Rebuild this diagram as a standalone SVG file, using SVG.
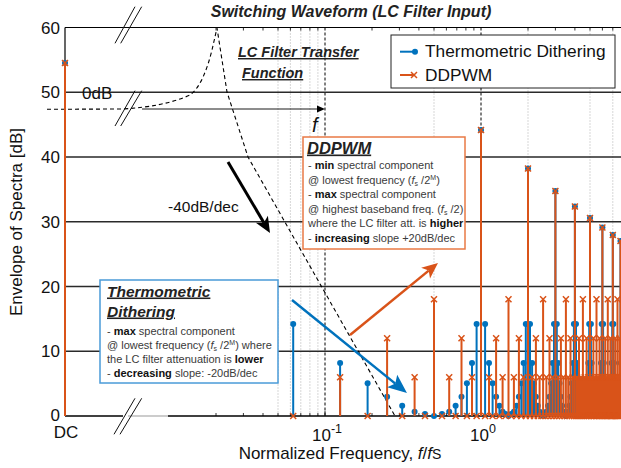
<svg xmlns="http://www.w3.org/2000/svg" width="621" height="468" viewBox="0 0 621 468">
<style>
text{font-family:"Liberation Sans",Arial,sans-serif;}
.lab{font-size:17px;fill:#111;}
.bi{font-weight:bold;font-style:italic;fill:#222;}
.body{font-size:11px;fill:#3a3a3a;}
.b{font-weight:bold;fill:#111;}
.grid{stroke:#2a2a2a;stroke-width:1.3;fill:none;}
.dot{stroke:#9a9a9a;stroke-width:0.8;stroke-dasharray:1 2;fill:none;}
.dash{stroke:#000;stroke-width:1;stroke-dasharray:3 2;fill:none;}
.sB{stroke:#0072BD;stroke-width:2;fill:none;}
.sO{stroke:#D95319;stroke-width:2;fill:none;}
.mkB{stroke:none;fill:none;marker-start:url(#mB);marker-mid:url(#mB);marker-end:url(#mB);}
.mkO{stroke:none;fill:none;marker-start:url(#mO);marker-mid:url(#mO);marker-end:url(#mO);}
.brk{stroke:#111;stroke-width:1;fill:none;}
</style>
<defs>
<marker id="mB" markerUnits="userSpaceOnUse" viewBox="-4 -4 8 8" markerWidth="8" markerHeight="8" refX="0" refY="0" overflow="visible"><circle r="3" fill="#0072BD"/></marker>
<marker id="mO" markerUnits="userSpaceOnUse" viewBox="-4 -4 8 8" markerWidth="8" markerHeight="8" refX="0" refY="0" overflow="visible"><path d="M-3,-3L3,3M-3,3L3,-3" stroke="#D95319" stroke-width="1.5" fill="none"/></marker>
<marker id="ahK" markerUnits="userSpaceOnUse" viewBox="-6 -9 20 18" markerWidth="20" markerHeight="18" refX="0" refY="0" orient="auto" overflow="visible"><path d="M12,0L-4,-7L0,0L-4,7Z" fill="#000"/></marker>
<marker id="ahO" markerUnits="userSpaceOnUse" viewBox="-6 -9 20 18" markerWidth="20" markerHeight="18" refX="0" refY="0" orient="auto" overflow="visible"><path d="M12,0L-4,-7L0,0L-4,7Z" fill="#D95319"/></marker>
<marker id="ahB" markerUnits="userSpaceOnUse" viewBox="-6 -10 24 20" markerWidth="24" markerHeight="20" refX="0" refY="0" orient="auto" overflow="visible"><path d="M15,0L-4,-8L0,0L-4,8Z" fill="#0072BD"/></marker>
</defs>
<rect width="621" height="468" fill="#fff"/>

<g id="title"><text class="bi" x="351" y="17" font-size="16" text-anchor="middle">Switching Waveform (LC Filter Input)</text></g>

<g id="grid">
<path class="dot" d="M278 27.5V416M290.4 27.5V416M300.8 27.5V416M309.9 27.5V416M317.9 27.5V416M434 27.5V416M528 27.5V416M590 27.5V416M612.8 27.5V416"/>
<path class="dash" d="M325 27.5V416M481 27.5V416"/>
<path class="grid" d="M65 92.25H621M65 157H621M65 221.75H621M65 286.5H621M65 351.25H621"/>
</g>

<g id="axes">
<path d="M65 27.5H621" stroke="#000" stroke-width="1.2"/>
<path d="M65 27.5V416" stroke="#000" stroke-width="1.2"/>
<path d="M65 416H123" stroke="#000" stroke-width="1.4"/>
<path d="M128 416H168" stroke="#999" stroke-width="1"/>
<path d="M168 416H621" stroke="#000" stroke-width="1.4"/>
<path d="M216 416v-3M243.4 416v-3M263 416v-3M278 416v-3M290.4 416v-3M300.8 416v-3M309.9 416v-3M317.9 416v-3M325 416v-5M372 416v-3M399.4 416v-3M418.9 416v-3M434 416v-3M446.4 416v-3M456.8 416v-3M465.9 416v-3M473.9 416v-3M481 416v-5M528 416v-3M555.4 416v-3M574.9 416v-3M590 416v-3M602.4 416v-3M612.8 416v-3" stroke="#000" stroke-width="0.8"/>
<path d="M216 27.5v3M243.4 27.5v3M263 27.5v3M278 27.5v3M290.4 27.5v3M300.8 27.5v3M309.9 27.5v3M317.9 27.5v3M372 27.5v3M399.4 27.5v3M418.9 27.5v3M434 27.5v3M446.4 27.5v3M456.8 27.5v3M465.9 27.5v3M473.9 27.5v3M528 27.5v3M555.4 27.5v3M574.9 27.5v3M590 27.5v3M602.4 27.5v3M612.8 27.5v3" stroke="#000" stroke-width="0.8"/>
<text class="lab" x="60" y="33.5" text-anchor="end">60</text>
<text class="lab" x="60" y="98.3" text-anchor="end">50</text>
<text class="lab" x="60" y="163" text-anchor="end">40</text>
<text class="lab" x="60" y="227.8" text-anchor="end">30</text>
<text class="lab" x="60" y="292.5" text-anchor="end">20</text>
<text class="lab" x="60" y="357.3" text-anchor="end">10</text>
<text class="lab" x="60" y="420.5" text-anchor="end" font-size="16">0</text>
<text class="lab" x="66" y="438" text-anchor="middle" font-size="16">DC</text>
<text class="lab" x="312" y="441" font-size="16">10<tspan font-size="12.5" dy="-8">-1</tspan></text>
<text class="lab" x="470" y="441" font-size="16">10<tspan font-size="12.5" dy="-8">0</tspan></text>
<text class="lab" x="340" y="459" text-anchor="middle" font-size="16.5">Normalized Frequency, <tspan font-style="italic">f</tspan>/<tspan font-style="italic">f</tspan><tspan font-size="14">S</tspan></text>
<text class="lab" x="0" y="0" text-anchor="middle" transform="translate(22 222) rotate(-90)">Envelope of Spectra [dB]</text>
</g>

<g id="breaks">
<path class="brk" d="M115 43.3L135 6.7M120.7 43.3L141.7 6.7"/>
<path class="brk" d="M115 126L135 90.7M120.7 126L141.7 90.7"/>
<path class="brk" d="M114 434.3L135 398.3M120 434.3L141.7 398.3"/>
</g>

<g id="lc-filter">
<path d="M47 109.3L120 109C150 108 175 102 190 95C200 88 207 70 212 50L217 28L227 92L248 157L395 416" stroke="#000" stroke-width="1.1" stroke-dasharray="4 3" fill="none"/>
<path d="M142 109H319" stroke="#000" stroke-width="0.9"/>
<path d="M325 109L317 105.5L317 112.5Z" fill="#000"/>
<text class="lab" x="82" y="99">0dB</text>
<text x="312" y="132" font-size="20" font-style="italic" fill="#111">f</text>
<text class="bi" x="238" y="57" font-size="14.5" text-decoration="underline">LC Filter Transfer</text>
<text class="bi" x="242" y="78" font-size="14.5" text-decoration="underline">Function</text>
<text x="168" y="212" font-size="15.5" fill="#111">-40dB/dec</text>
</g>

<g id="series-thermometric">
<path class="sB" d="M65 416V63M293.2 416V324M340.1 416V363M367.6 416V383.3M387.1 416V396.7M402.2 416V405.7M414.6 416V411.7M425 416V414M442 416V414M449.2 416V411.7M455.6 416V405.7M461.5 416V396.7M466.9 416V383.3M472 416V363M476.6 416V324M481 416V130M485.1 416V324M489 416V363M492.6 416V383.3M496.1 416V396.7M499.4 416V405.7M502.6 416V411.7M505.6 416V414M511.2 416V414M513.9 416V411.7M516.5 416V405.7M518.9 416V396.7M521.3 416V383.3M523.6 416V363M525.8 416V324M528 416V168.5M530 416V324M532.1 416V363M534 416V383.3M535.9 416V396.7M537.8 416V405.7M539.6 416V411.7M541.4 416V414M544.8 416V414M546.4 416V411.7M548 416V405.7M549.5 416V396.7M551.1 416V383.3M552.5 416V363M554 416V324M555.4 416V191M556.8 416V324M558.2 416V363M559.5 416V383.3M560.9 416V396.7M562.1 416V405.7M563.4 416V411.7M564.7 416V414M567.1 416V414M568.2 416V411.7M569.4 416V405.7M570.5 416V396.7M571.7 416V383.3M572.8 416V363M573.9 416V324M574.9 416V206.5M576 416V324M577 416V363M578 416V383.3M579 416V396.7M580 416V405.7M581 416V411.7M582 416V414M583.8 416V414M584.8 416V411.7M585.7 416V405.7M586.6 416V396.7M587.5 416V383.3M588.3 416V363M589.2 416V324M590 416V218M590.9 416V324M591.7 416V363M592.5 416V383.3M593.4 416V396.7M594.2 416V405.7M594.9 416V411.7M595.7 416V414M597.3 416V414M598 416V411.7M598.8 416V405.7M599.5 416V396.7M600.2 416V383.3M601 416V363M601.7 416V324M602.4 416V227.5M603.1 416V324M603.8 416V363M604.5 416V383.3M605.2 416V396.7M605.8 416V405.7M606.5 416V411.7M607.2 416V414M608.5 416V414M609.1 416V411.7M609.7 416V405.7M610.4 416V396.7M611 416V383.3M611.6 416V363M612.2 416V324M612.8 416V235M613.4 416V324M614 416V363M614.6 416V383.3M615.2 416V396.7M615.8 416V405.7M616.4 416V411.7M617 416V414M618.1 416V414M618.6 416V411.7M619.2 416V405.7M619.7 416V396.7M620.3 416V383.3M620.8 416V363M620.5 416V241"/>
<path class="mkB" d="M65 63L293.2 324L340.1 363L367.6 383.3L387.1 396.7L402.2 405.7L414.6 411.7L425 414L434 416L442 414L449.2 411.7L455.6 405.7L461.5 396.7L466.9 383.3L472 363L476.6 324L481 130L485.1 324L489 363L492.6 383.3L496.1 396.7L499.4 405.7L502.6 411.7L505.6 414L508.5 416L511.2 414L513.9 411.7L516.5 405.7L518.9 396.7L521.3 383.3L523.6 363L525.8 324L528 168.5L530 324L532.1 363L534 383.3L535.9 396.7L537.8 405.7L539.6 411.7L541.4 414L543.1 416L544.8 414L546.4 411.7L548 405.7L549.5 396.7L551.1 383.3L552.5 363L554 324L555.4 191L556.8 324L558.2 363L559.5 383.3L560.9 396.7L562.1 405.7L563.4 411.7L564.7 414L565.9 416L567.1 414L568.2 411.7L569.4 405.7L570.5 396.7L571.7 383.3L572.8 363L573.9 324L574.9 206.5L576 324L577 363L578 383.3L579 396.7L580 405.7L581 411.7L582 414L582.9 416L583.8 414L584.8 411.7L585.7 405.7L586.6 396.7L587.5 383.3L588.3 363L589.2 324L590 218L590.9 324L591.7 363L592.5 383.3L593.4 396.7L594.2 405.7L594.9 411.7L595.7 414L596.5 416L597.3 414L598 411.7L598.8 405.7L599.5 396.7L600.2 383.3L601 363L601.7 324L602.4 227.5L603.1 324L603.8 363L604.5 383.3L605.2 396.7L605.8 405.7L606.5 411.7L607.2 414L607.8 416L608.5 414L609.1 411.7L609.7 405.7L610.4 396.7L611 383.3L611.6 363L612.2 324L612.8 235L613.4 324L614 363L614.6 383.3L615.2 396.7L615.8 405.7L616.4 411.7L617 414L617.5 416L618.1 414L618.6 411.7L619.2 405.7L619.7 396.7L620.3 383.3L620.8 363L620.5 241"/>
</g>

<g id="series-ddpwm">
<path class="sO" d="M65 416V63M340.1 416V377.3M387.1 416V338.3M414.6 416V377.3M434 416V299.3M449.2 416V377.3M461.5 416V338.3M472 416V377.3M481 416V130M489 416V377.3M496.1 416V338.3M502.6 416V377.3M508.5 416V299.3M513.9 416V377.3M518.9 416V338.3M523.6 416V377.3M528 416V168.5M532.1 416V377.3M535.9 416V338.3M539.6 416V377.3M543.1 416V299.3M546.4 416V377.3M549.5 416V338.3M552.5 416V377.3M555.4 416V191M558.2 416V377.3M560.9 416V338.3M563.4 416V377.3M565.9 416V299.3M568.2 416V377.3M570.5 416V338.3M572.8 416V377.3M574.9 416V206.5M577 416V377.3M579 416V338.3M581 416V377.3M582.9 416V299.3M584.8 416V377.3M586.6 416V338.3M588.3 416V377.3M590 416V218M591.7 416V377.3M593.4 416V338.3M594.9 416V377.3M596.5 416V299.3M598 416V377.3M599.5 416V338.3M601 416V377.3M602.4 416V227.5M603.8 416V377.3M605.2 416V338.3M606.5 416V377.3M607.8 416V299.3M609.1 416V377.3M610.4 416V338.3M611.6 416V377.3M612.8 416V235M614 416V377.3M615.2 416V338.3M616.4 416V377.3M617.5 416V299.3M618.6 416V377.3M619.7 416V338.3M620.8 416V377.3M620.5 416V241"/>
<path class="mkO" d="M65 63L293.2 416L340.1 377.3L367.6 416L387.1 338.3L402.2 416L414.6 377.3L425 416L434 299.3L442 416L449.2 377.3L455.6 416L461.5 338.3L466.9 416L472 377.3L476.6 416L481 130L485.1 416L489 377.3L492.6 416L496.1 338.3L499.4 416L502.6 377.3L505.6 416L508.5 299.3L511.2 416L513.9 377.3L516.5 416L518.9 338.3L521.3 416L523.6 377.3L525.8 416L528 168.5L530 416L532.1 377.3L534 416L535.9 338.3L537.8 416L539.6 377.3L541.4 416L543.1 299.3L544.8 416L546.4 377.3L548 416L549.5 338.3L551.1 416L552.5 377.3L554 416L555.4 191L556.8 416L558.2 377.3L559.5 416L560.9 338.3L562.1 416L563.4 377.3L564.7 416L565.9 299.3L567.1 416L568.2 377.3L569.4 416L570.5 338.3L571.7 416L572.8 377.3L573.9 416L574.9 206.5L576 416L577 377.3L578 416L579 338.3L580 416L581 377.3L582 416L582.9 299.3L583.8 416L584.8 377.3L585.7 416L586.6 338.3L587.5 416L588.3 377.3L589.2 416L590 218L590.9 416L591.7 377.3L592.5 416L593.4 338.3L594.2 416L594.9 377.3L595.7 416L596.5 299.3L597.3 416L598 377.3L598.8 416L599.5 338.3L600.2 416L601 377.3L601.7 416L602.4 227.5L603.1 416L603.8 377.3L604.5 416L605.2 338.3L605.8 416L606.5 377.3L607.2 416L607.8 299.3L608.5 416L609.1 377.3L609.7 416L610.4 338.3L611 416L611.6 377.3L612.2 416L612.8 235L613.4 416L614 377.3L614.6 416L615.2 338.3L615.8 416L616.4 377.3L617 416L617.5 299.3L618.1 416L618.6 377.3L619.2 416L619.7 338.3L620.3 416L620.8 377.3L620.5 241"/>
</g>

<g id="legend">
<rect x="391" y="35" width="224" height="53" fill="#fff" stroke="#222" stroke-width="1"/>
<path d="M400 51.7H415" class="sB"/>
<circle cx="415" cy="51.7" r="3" fill="#0072BD"/>
<text x="425" y="57" font-size="17.3" fill="#111">Thermometric Dithering</text>
<path d="M400 75H414" class="sO"/>
<path d="M411 72L417 78M411 78L417 72" stroke="#D95319" stroke-width="1.5"/>
<text x="425" y="80.5" font-size="17.3" fill="#111">DDPWM</text>
</g>

<g id="box-ddpwm">
<rect x="303" y="137" width="162" height="112" fill="#fff" stroke="#E97A45" stroke-width="1.5"/>
<text class="bi" x="307" y="153.5" font-size="16.5" text-decoration="underline">DDPWM</text>
<text class="body" x="308" y="169">- <tspan class="b">min</tspan> spectral component</text>
<text class="body" x="308" y="183.6">@ lowest frequency (<tspan font-style="italic">f</tspan><tspan font-size="7" dy="2">s</tspan><tspan dy="-2"> /2</tspan><tspan font-size="7" dy="-4">M</tspan><tspan dy="4">)</tspan></text>
<text class="body" x="308" y="198.2">- <tspan class="b">max</tspan> spectral component</text>
<text class="body" x="308" y="212.8">@ highest baseband freq. (<tspan font-style="italic">f</tspan><tspan font-size="7" dy="2">s</tspan><tspan dy="-2"> /2)</tspan></text>
<text class="body" x="308" y="227.4">where the LC filter att. is <tspan class="b">higher</tspan></text>
<text class="body" x="308" y="242">- <tspan class="b">increasing</tspan> slope +20dB/dec</text>
</g>

<g id="box-thermometric">
<rect x="100" y="280" width="178" height="103" fill="#fff" stroke="#4A9BD8" stroke-width="1.5"/>
<text class="bi" x="107" y="296.5" font-size="15.5" text-decoration="underline">Thermometric</text>
<text class="bi" x="107" y="316.5" font-size="15.5" text-decoration="underline">Dithering</text>
<text class="body" x="107" y="335">- <tspan class="b">max</tspan> spectral component</text>
<text class="body" x="107" y="349">@ lowest frequency (<tspan font-style="italic">f</tspan><tspan font-size="7" dy="2">s</tspan><tspan dy="-2"> /2</tspan><tspan font-size="7" dy="-4">M</tspan><tspan dy="4">) where</tspan></text>
<text class="body" x="107" y="363.3">the LC filter attenuation is <tspan class="b">lower</tspan></text>
<text class="body" x="107" y="377.3">- <tspan class="b">decreasing</tspan> slope: -20dB/dec</text>
</g>

<g id="connectors">
<path d="M228 162L263.9 222.7" stroke="#000" stroke-width="3" fill="none" marker-end="url(#ahK)"/>
<path d="M350 335L428.7 270.6" stroke="#D95319" stroke-width="2.5" fill="none" marker-end="url(#ahO)"/>
<path d="M292 300L395.3 383.6" stroke="#0072BD" stroke-width="2.5" fill="none" marker-end="url(#ahB)"/>
</g>
</svg>
